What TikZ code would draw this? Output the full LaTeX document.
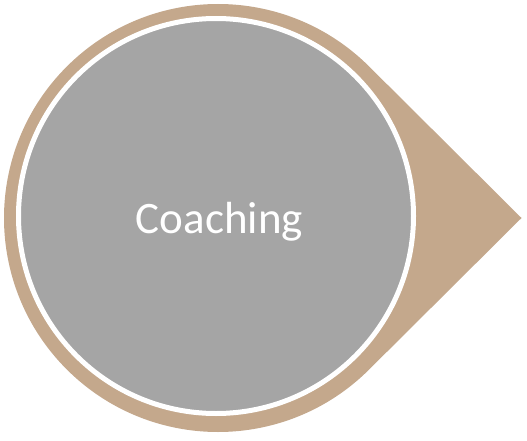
\documentclass[tikz,border=0pt]{standalone}
\usepackage{fontspec}
\setmainfont{Carlito}
\usetikzlibrary{calc}
\definecolor{tan}{HTML}{C4A88C}
\definecolor{discgray}{HTML}{A5A5A5}
\tikzset{
  teardrop/.style={fill=tan, draw=none},
  disc/.style={circle, fill=discgray, draw=white, line width=5pt, minimum size=395pt, inner sep=0pt},
  labeltext/.style={text=white, font=\fontsize{45}{54}\selectfont, inner sep=0pt, anchor=base}
}
\begin{document}
\begin{tikzpicture}[x=1pt,y=1pt]
\useasboundingbox (0,0) rectangle (527,440);
\coordinate (c) at (218,222);
\coordinate (tip) at (521.5,222);
\path[teardrop] (tip) -- ($(c)+(45:214)$) arc[start angle=45, end angle=315, radius=214] -- cycle;
\node[disc] (coach) at (216,224) {};
\node[labeltext] (label) at (219.5,207) {Coaching};
\end{tikzpicture}
\end{document}
